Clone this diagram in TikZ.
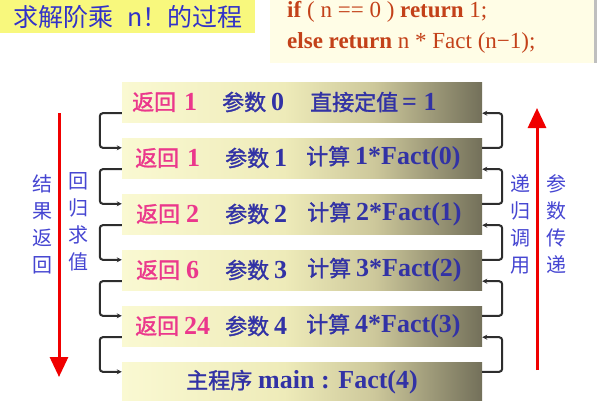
\documentclass[tikz,border=0pt]{standalone}
\usepackage{fontspec}
\setmainfont{Liberation Serif}
\newfontfamily\cjk{Noto Sans CJK SC}
\newfontfamily\cjkb{Noto Sans CJK SC}[FakeBold=1.5]
\usetikzlibrary{arrows.meta,calc}
\definecolor{boxtxt}{RGB}{50,50,165}
\definecolor{pinktxt}{RGB}{235,55,140}
\definecolor{sidetxt}{RGB}{70,70,210}
\definecolor{codetxt}{RGB}{195,65,25}
\definecolor{titlebg}{RGB}{248,248,125}
\definecolor{titletxt}{RGB}{50,50,200}
\definecolor{codebg}{RGB}{255,253,230}
\definecolor{connc}{RGB}{45,45,45}
\definecolor{bA}{RGB}{250,249,210}
\definecolor{bB}{RGB}{238,235,185}
\definecolor{bC}{RGB}{205,200,155}
\definecolor{bD}{RGB}{115,112,90}
\definecolor{redc}{RGB}{240,0,0}
\pgfdeclarehorizontalshading{boxshade}{100bp}{color(0bp)=(bA); color(25bp)=(bA); color(47.5bp)=(bB); color(60bp)=(bC); color(75bp)=(bD); color(100bp)=(bD)}
\newcommand\zh[1]{{\cjkb\mdseries\fontsize{22}{26}\selectfont #1}}
\tikzset{
  rowbox/.style={minimum width=360pt, minimum height=40pt, inner sep=0pt, shade, shading=boxshade},
  rowtxt/.style={anchor=west, inner sep=0pt, font=\fontsize{26}{30}\selectfont\bfseries},
  pk/.style={rowtxt, text=pinktxt},
  bl/.style={rowtxt, text=boxtxt},
  lconn/.style={draw=connc, line width=2pt, rounded corners=3pt, -{Stealth[length=5pt,width=5pt]}},
  rconn/.style={draw=connc, line width=2pt, rounded corners=3pt, -{Stealth[length=5pt,width=5pt]}},
  redarrow/.style={draw=redc, line width=3pt, -{Triangle[width=18pt,length=20pt]}},
  vtxt/.style={align=center, inner sep=0pt, text=sidetxt, font=\cjk\fontsize{20}{27}\selectfont},
  codeline/.style={anchor=west, inner sep=0pt, text=codetxt, font=\fontsize{23}{27}\selectfont},
}
\begin{document}
\begin{tikzpicture}[x=1pt, y=-1pt]
\useasboundingbox (0,0) rectangle (600,400);
\fill[white] (0,0) rectangle (600,400);
% title
\node[fill=titlebg, anchor=north west, minimum width=255pt, minimum height=33pt, inner sep=0pt,
      text=titletxt, font=\cjk\fontsize{25}{29}\selectfont] (title) at (0,0) {求解阶乘\hspace{14pt}n！的过程};
% code box
\node[fill=codebg, anchor=north west, minimum width=325pt, minimum height=63pt, inner sep=0pt] (code) at (270,0) {};
\draw[black!25, line width=3pt] (code.north east) -- (code.south east);
\node[codeline] (c1) at (287,12) {\textbf{if}\ ( n == 0 )\ \textbf{return}\ 1;};
\node[codeline] (c2) at (287,43) {\textbf{else return} n * Fact (n\textminus 1);};
% boxes
\node[rowbox] (b0) at (302,102) {};
\node[rowbox] (b1) at (302,158) {};
\node[rowbox] (b2) at (302,214) {};
\node[rowbox] (b3) at (302,270) {};
\node[rowbox] (b4) at (302,326) {};
\node[rowbox] (b5) at (302,382) {};
% row texts
\node[pk] (t0a) at (132,102) {\zh{返回}\hspace{8pt}1};
\node[bl] (t0b) at (222,102) {\zh{参数}\hspace{5pt}0};
\node[bl] (t0c) at (310,102) {\zh{直接定值}\hspace{4pt}= 1};
\node[pk] (t1a) at (135,158) {\zh{返回}\hspace{8pt}1};
\node[bl] (t1b) at (225,158) {\zh{参数}\hspace{5pt}1};
\node[bl] (t1c) at (306,158) {\zh{计算}\hspace{5pt}1*Fact(0)};
\node[pk] (t2a) at (136,214) {\zh{返回}\hspace{6pt}2};
\node[bl] (t2b) at (225,214) {\zh{参数}\hspace{5pt}2};
\node[bl] (t2c) at (307,214) {\zh{计算}\hspace{5pt}2*Fact(1)};
\node[pk] (t3a) at (136,270) {\zh{返回}\hspace{6pt}6};
\node[bl] (t3b) at (225,270) {\zh{参数}\hspace{5pt}3};
\node[bl] (t3c) at (307,270) {\zh{计算}\hspace{5pt}3*Fact(2)};
\node[pk] (t4a) at (135,326) {\zh{返回}\hspace{5pt}24};
\node[bl] (t4b) at (225,326) {\zh{参数}\hspace{5pt}4};
\node[bl] (t4c) at (306,326) {\zh{计算}\hspace{5pt}4*Fact(3)};
\node[bl, anchor=center] (t5) at (302,382) {\zh{主程序}\hspace{6pt}main : Fact(4)};
% left brackets
\draw[lconn] ($(b0.south west)+(0,-9)$) -- ++(-22,0) |- ($(b1.north west)+(0,10)$);
\draw[lconn] ($(b1.south west)+(0,-9)$) -- ++(-22,0) |- ($(b2.north west)+(0,10)$);
\draw[lconn] ($(b2.south west)+(0,-9)$) -- ++(-22,0) |- ($(b3.north west)+(0,10)$);
\draw[lconn] ($(b3.south west)+(0,-9)$) -- ++(-22,0) |- ($(b4.north west)+(0,10)$);
\draw[lconn] ($(b4.south west)+(0,-9)$) -- ++(-22,0) |- ($(b5.north west)+(0,10)$);
% right brackets
\draw[rconn] ($(b1.north east)+(0,10)$) -- ++(20,0) |- ($(b0.south east)+(0,-9)$);
\draw[rconn] ($(b2.north east)+(0,10)$) -- ++(20,0) |- ($(b1.south east)+(0,-9)$);
\draw[rconn] ($(b3.north east)+(0,10)$) -- ++(20,0) |- ($(b2.south east)+(0,-9)$);
\draw[rconn] ($(b4.north east)+(0,10)$) -- ++(20,0) |- ($(b3.south east)+(0,-9)$);
\draw[rconn] ($(b5.north east)+(0,10)$) -- ++(20,0) |- ($(b4.south east)+(0,-9)$);
% red arrows
\coordinate (ls) at (59,113);
\coordinate (le) at (59,377);
\draw[redarrow] (ls) -- (le);
\coordinate (rs) at (537,370);
\coordinate (re) at (537,108);
\draw[redarrow] (rs) -- (re);
% side texts
\node[vtxt] (v1) at (42,224) {结\\果\\返\\回};
\node[vtxt] (v2) at (78,222) {回\\归\\求\\值};
\node[vtxt] (v3) at (520,224) {递\\归\\调\\用};
\node[vtxt] (v4) at (556,224) {参\\数\\传\\递};
\end{tikzpicture}
\end{document}
